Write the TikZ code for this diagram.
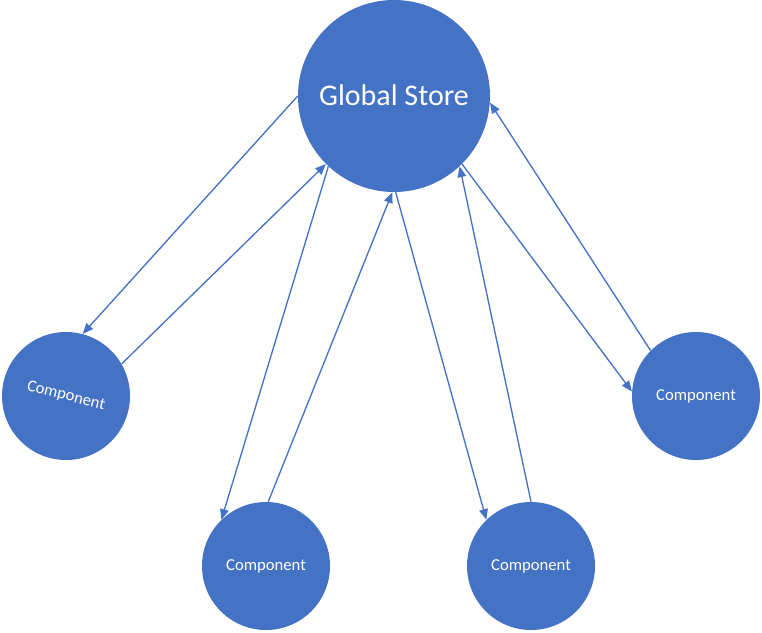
\documentclass[tikz,border=0pt]{standalone}
\usepackage{graphicx}
\usepackage{fontspec}
\setmainfont{Carlito}
\usetikzlibrary{arrows.meta}

\definecolor{storeblue}{HTML}{4472C4}

\begin{document}
\begin{tikzpicture}[
                x=0.75pt,y=-0.75pt,
                store/.style={circle,fill=storeblue,text=white,inner sep=0pt,minimum size=144pt,font=\fontsize{22.5}{26}\selectfont},
                comp/.style={circle,fill=storeblue,text=white,inner sep=0pt,minimum size=96pt,font=\fontsize{12.5}{15}\selectfont},
                link/.style={draw=storeblue,line width=1pt,-{Triangle[length=8pt,width=6.5pt]}}
            ]
                \useasboundingbox (0,0) rectangle (762,632);
                \node [store] (gs) at (394,96) {\raisebox{2pt}{Global Store}};
                \node [comp] (c1) at (66,396) {\rotatebox{-14}{Component}};
                \node [comp] (c2) at (266,566) {Component};
                \node [comp] (c3) at (531,566) {Component};
                \node [comp] (c4) at (696,396) {Component};
                % one pair of links per component
                \foreach \from/\to in {gs.180/c1.75, c1.30/gs.225, gs.227/c2.134, c2.88/gs.269,
                                       gs.271/c3.134, c3.90/gs.313, gs.315/c4.176, c4.135/gs.356} {
                    \draw [link] (\from) -- (\to);
                }
            \end{tikzpicture}
\end{document}
